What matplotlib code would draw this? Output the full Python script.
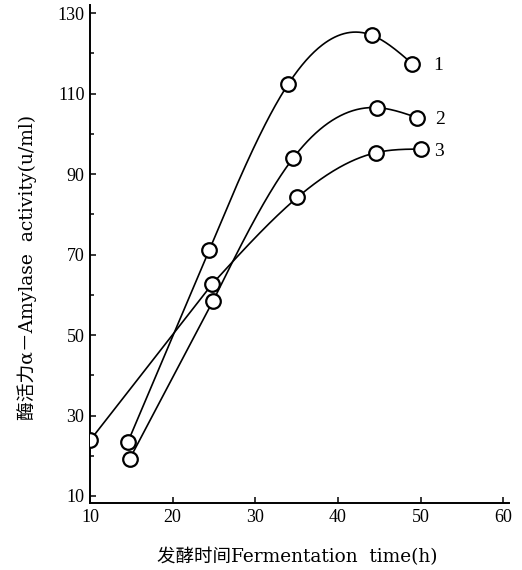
import numpy as np
import matplotlib
matplotlib.use("Agg")
import matplotlib.pyplot as plt

# ---- data ----
time_1 = [14.6, 24.4, 34.0, 44.1, 49.0]
activity_1 = [23.5, 71.0, 112.4, 124.5, 117.4]
time_2 = [14.8, 24.9, 34.6, 44.7, 49.6]
activity_2 = [19.2, 58.5, 94.0, 106.5, 104.0]
time_3 = [10.0, 24.8, 35.1, 44.6, 50.1]
activity_3 = [23.8, 62.7, 84.2, 95.3, 96.2]
curve_labels = ["1", "2", "3"]
x_ticks = [10, 20, 30, 40, 50, 60]
y_ticks = [10, 30, 50, 70, 90, 110, 130]
y_minor = [20, 40, 60, 80, 100, 120]
x_label = "发酵时间Fermentation  time(h)"
y_label = "酶活力α－Amylase  activity(u/ml)"

LABEL_FONT = ["DejaVu Serif", "Noto Sans CJK SC"]
TICK_FONT = ["Liberation Serif", "DejaVu Serif"]
plt.rcParams["font.family"] = TICK_FONT


def natural_spline(x, y, n=200):
    x = np.asarray(x, float)
    y = np.asarray(y, float)
    k = len(x)
    h = np.diff(x)
    A = np.zeros((k, k))
    b = np.zeros(k)
    A[0, 0] = A[-1, -1] = 1
    for i in range(1, k - 1):
        A[i, i - 1] = h[i - 1]
        A[i, i] = 2 * (h[i - 1] + h[i])
        A[i, i + 1] = h[i]
        b[i] = 3 * ((y[i + 1] - y[i]) / h[i] - (y[i] - y[i - 1]) / h[i - 1])
    c = np.linalg.solve(A, b)
    xs = np.linspace(x[0], x[-1], n)
    idx = np.clip(np.searchsorted(x, xs) - 1, 0, k - 2)
    dx = xs - x[idx]
    bc = (y[1:] - y[:-1]) / h - h * (2 * c[:-1] + c[1:]) / 3
    dc = (c[1:] - c[:-1]) / (3 * h)
    ys = y[idx] + bc[idx] * dx + c[idx] * dx ** 2 + dc[idx] * dx ** 3
    return xs, ys


fig = plt.figure(figsize=(5.22, 5.70), dpi=100)
ax = fig.add_axes([90 / 522, 67 / 570, (509 - 90) / 522, (565 - 67) / 570])

series = [(time_1, activity_1), (time_2, activity_2), (time_3, activity_3)]
offsets = [(18.5, -1.5), (16.5, -1.5), (12.5, -1.5)]
for (t, a), lab, off in zip(series, curve_labels, offsets):
    sx, sy = natural_spline(t[1:], a[1:])
    lx = np.concatenate([[t[0]], sx])
    ly = np.concatenate([[a[0]], sy])
    ax.plot(lx, ly, color="black", lw=1.2, zorder=2)
    ax.plot(t, a, linestyle="none", marker="o", ms=10.5, mfc="white",
            mec="black", mew=1.6, zorder=3)
    ax.annotate(lab, xy=(t[-1], a[-1]), xytext=off, textcoords="offset points",
                ha="center", va="center", fontsize=14)

ax.set_xlim(10, 60.7)
ax.set_ylim(8.26, 132)
ax.set_xticks(x_ticks)
ax.set_yticks(y_ticks)
ax.set_yticks(y_minor, minor=True)
ax.spines["top"].set_visible(False)
ax.spines["right"].set_visible(False)
ax.spines["left"].set_linewidth(1.4)
ax.spines["bottom"].set_linewidth(1.4)
ax.tick_params(axis="both", which="both", direction="in", width=1.1, labelsize=13)
ax.tick_params(axis="x", which="major", length=4, pad=4)
ax.tick_params(axis="y", which="major", length=4, pad=4)
ax.tick_params(axis="y", which="minor", length=3)

fig.text(297 / 522, 1 - 557 / 570, x_label, ha="center", va="center",
         fontsize=13.3, family=LABEL_FONT)
fig.text(27 / 522, 1 - 267 / 570, y_label, ha="center", va="center",
         rotation=90, fontsize=13.5, family=LABEL_FONT)

fig.savefig("out.png", dpi=100)
